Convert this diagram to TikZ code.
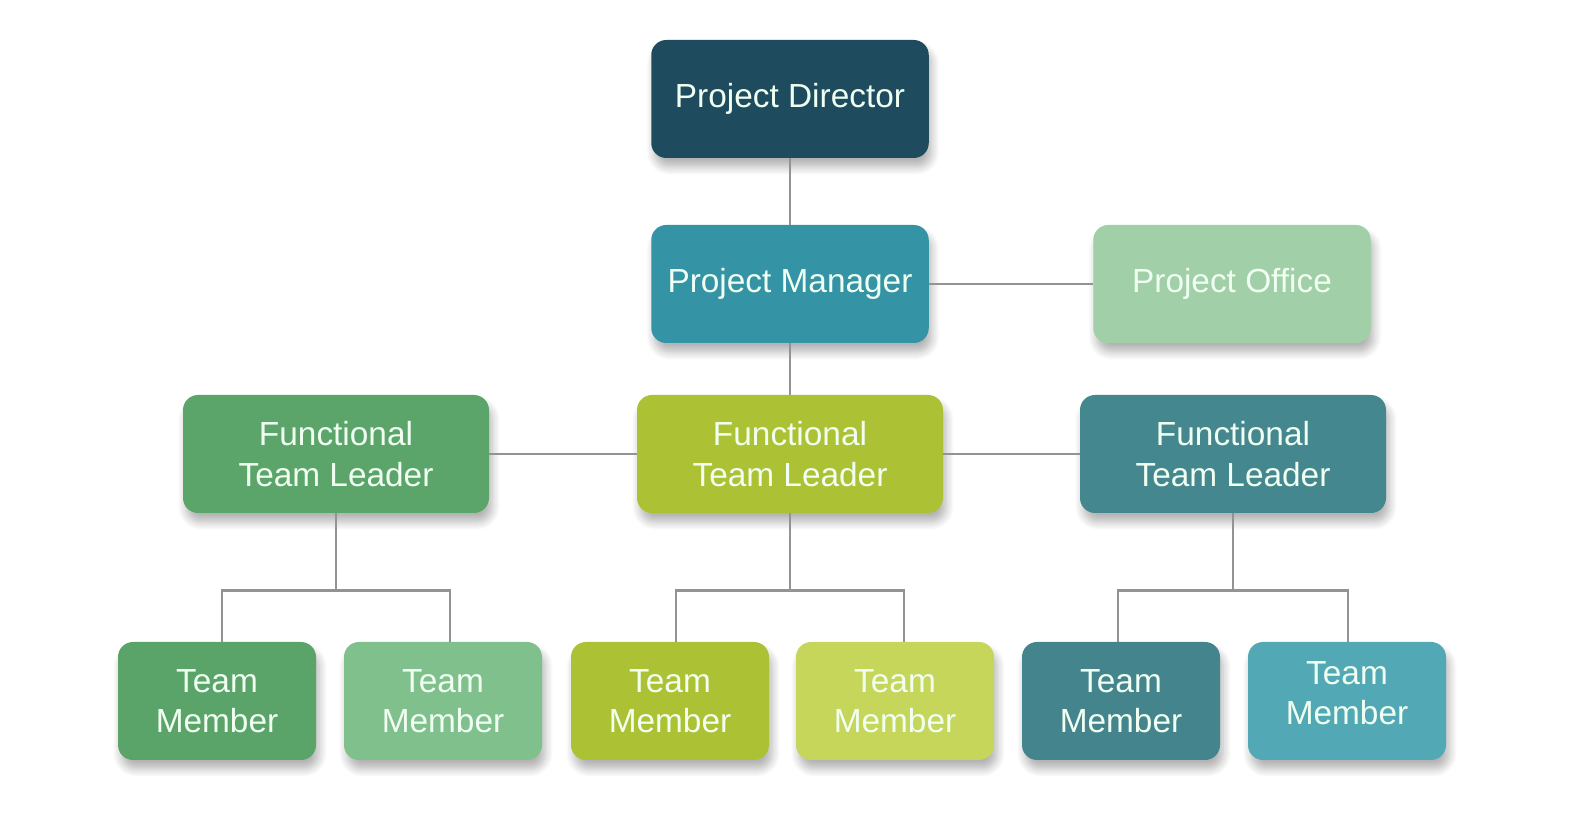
\documentclass[tikz,border=0pt]{standalone}
\usepackage{fontspec}
\setmainfont{Liberation Sans}
\usetikzlibrary{shadows.blur}
\definecolor{director}{HTML}{1F4B5F}
\definecolor{manager}{HTML}{3493A5}
\definecolor{office}{HTML}{A0CFA8}
\definecolor{leadA}{HTML}{5BA56B}
\definecolor{leadB}{HTML}{ADC135}
\definecolor{leadC}{HTML}{44878F}
\definecolor{memA}{HTML}{5AA46A}
\definecolor{memB}{HTML}{7FC08C}
\definecolor{memC}{HTML}{ADC135}
\definecolor{memD}{HTML}{C5D65A}
\definecolor{memE}{HTML}{44858D}
\definecolor{memF}{HTML}{52A9B5}
\definecolor{boxtext}{HTML}{F0FFF2}
\definecolor{wire}{HTML}{939393}
\begin{document}
\begin{tikzpicture}[
    box/.style = {rectangle, rounded corners=0.3cm, minimum height=2.36cm, align=center,
                  text=boxtext, font=\fontsize{19}{23}\selectfont,
                  blur shadow={shadow xshift=0.6mm, shadow yshift=-1.8mm, shadow opacity=30,
                               shadow blur radius=1.6mm, shadow blur steps=8}},
    wide/.style = {box, minimum width=5.55cm},
    lead/.style = {box, minimum width=6.12cm},
    member/.style = {box, minimum width=3.96cm},
    link/.style = {wire, line width=1.4pt}
]
\useasboundingbox (0,0) rectangle (31.46,16.38);

\node[wide, fill = director] (PD) at (15.80,14.40) {Project Director};
\node[wide, fill = manager] (PM) at (15.80,10.70) {Project Manager};
\node[wide, fill = office] (PO) at (24.64,10.70) {Project Office};
\node[lead, fill = leadA] (FL) at (6.72,7.30) {Functional\\Team Leader};
\node[lead, fill = leadB] (FM) at (15.80,7.30) {Functional\\Team Leader};
\node[lead, fill = leadC] (FR) at (24.66,7.30) {Functional\\Team Leader};
\node[member, fill = memA] (T1) at (4.34,2.36) {Team\\Member};
\node[member, fill = memB] (T2) at (8.86,2.36) {Team\\Member};
\node[member, fill = memC] (T3) at (13.40,2.36) {Team\\Member};
\node[member, fill = memD] (T4) at (17.90,2.36) {Team\\Member};
\node[member, fill = memE] (T5) at (22.42,2.36) {Team\\Member};
\node[member, fill = memF, text depth=0.32cm] (T6) at (26.94,2.36) {Team\\Member};

\draw[link] (PD) -- (PM);
\draw[link] (PM) -- (PO);
\draw[link] (PM) -- (FM);
\draw[link] (FL) -- (FM);
\draw[link] (FM) -- (FR);
\draw[link] (FL.south) -- ++(0,-1.54) -| ([xshift=0.1cm]T1.north);
\draw[link] (FL.south) -- ++(0,-1.54) -| ([xshift=0.14cm]T2.north);
\draw[link] (FM.south) -- ++(0,-1.54) -| ([xshift=0.12cm]T3.north);
\draw[link] (FM.south) -- ++(0,-1.54) -| ([xshift=0.18cm]T4.north);
\draw[link] (FR.south) -- ++(0,-1.54) -| ([xshift=-0.06cm]T5.north);
\draw[link] (FR.south) -- ++(0,-1.54) -| ([xshift=0.02cm]T6.north);
\end{tikzpicture}
\end{document}
